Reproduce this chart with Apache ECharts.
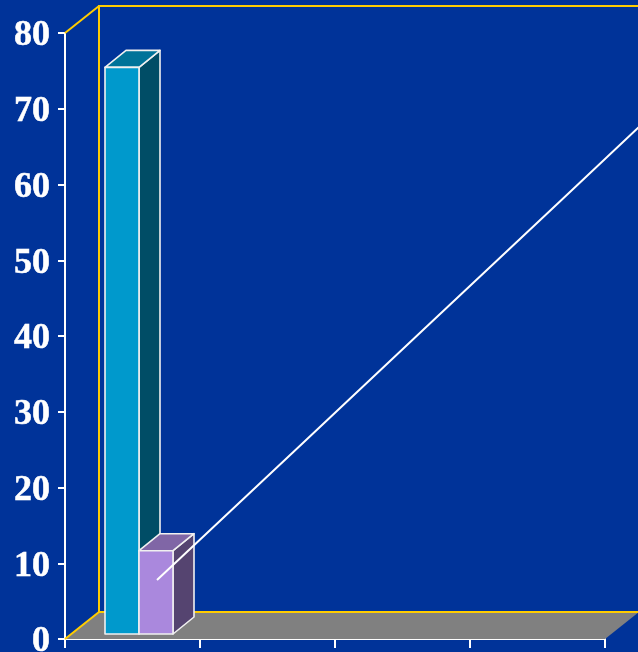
<!DOCTYPE html>
<html><head><meta charset="utf-8">
<style>html,body{margin:0;padding:0;background:#003399}#c{width:638px;height:652px}</style>
<script src="https://cdn.jsdelivr.net/npm/echarts@6/dist/echarts.min.js"></script>
</head><body><div id="c"></div>
<script>
const categories = ['A','B','C','D'];
const lineCategories = ['A','B','C','D','E'];
const barBlue = [74.8, null, null, null];
const barPurple = [11, null, null, null];
const lineValues = [6, 22.75, 39.5, 56.25, 73];
const yTicks = {min:0, max:80, interval:10};

const BG='#003399', YEL='#FFCC00', W='#FFFFFF';
const DX=34, DY=-27;           // box depth of the plot
const GX=6.5, GY=-5;           // gap in front of the bars
const BX=21, BY=-17, BW=34;    // bar depth and width

function wallsItem(params, api){
  const o=api.coord([0,0]), t=api.coord([0,80]), band=api.size([1,0])[0];
  const L=o[0]-band/2, R=L+band*categories.length, B=o[1], T=t[1];
  const line=(a,b,c)=>({type:'polyline',shape:{points:c?[a,b,c]:[a,b]},style:{fill:null,stroke:YEL,lineWidth:2}});
  return {type:'group',children:[
    {type:'polygon',shape:{points:[[L,B],[R,B],[R+DX,B+DY],[L+DX,B+DY]]},style:{fill:'#808080'}},
    line([L,B],[L+DX,B+DY],[R+DX,B+DY]),
    line([L+DX,B+DY],[L+DX,T+DY],[R+DX,T+DY]),
    line([L,T],[L+DX,T+DY])
  ]};
}
function barItem(colors, shift){
  return function(params, api){
    const v=api.value(1); if(v==null||isNaN(v)) return null;
    const p=api.coord([api.value(0),v]), o=api.coord([api.value(0),0]);
    const x0=p[0]+GX+shift, x1=x0+BW, yT=p[1]+GY, yB=o[1]+GY;
    const st=f=>({fill:f,stroke:'#F0F0F0',lineWidth:1.6,lineJoin:'round'});
    return {type:'group',children:[
      {type:'polygon',shape:{points:[[x1,yT],[x1+BX,yT+BY],[x1+BX,yB+BY],[x1,yB]]},style:st(colors[2])},
      {type:'polygon',shape:{points:[[x0,yT],[x0+BX,yT+BY],[x1+BX,yT+BY],[x1,yT]]},style:st(colors[1])},
      {type:'polygon',shape:{points:[[x0,yT],[x1,yT],[x1,yB],[x0,yB]]},style:st(colors[0])}
    ]};
  };
}
const labelStyle={color:W,fontFamily:'"Liberation Serif",serif',fontWeight:'bold',fontSize:36,textBorderColor:W,textBorderWidth:0.5};
const yLabelFont=Object.assign({},labelStyle,{margin:15,
  formatter:v=>'{a|'+v+'}',
  rich:{a:Object.assign({},labelStyle,{padding:[6,0,0,0]})}});
const chart=echarts.init(document.getElementById('c'),null,{renderer:'canvas'});
chart.setOption({
  animation:false,
  backgroundColor:BG,
  grid:[
    {left:65,top:33,width:540,height:606,outerBoundsMode:'none'},
    {left:89.5,top:19.5,width:675,height:606,outerBoundsMode:'none'}
  ],
  xAxis:[
    {gridIndex:0,type:'category',data:categories,boundaryGap:true,
     axisLine:{lineStyle:{color:W,width:2}},axisTick:{show:true,alignWithLabel:false,length:9,lineStyle:{color:W,width:2}},
     axisLabel:{show:false},splitLine:{show:false}},
    {gridIndex:1,type:'category',data:lineCategories,show:false}
  ],
  yAxis:[
    {gridIndex:0,type:'value',min:yTicks.min,max:yTicks.max,interval:yTicks.interval,
     axisLine:{show:true,lineStyle:{color:W,width:2}},axisTick:{show:true,length:7,lineStyle:{color:W,width:2}},
     axisLabel:yLabelFont,splitLine:{show:false}},
    {gridIndex:1,type:'value',min:yTicks.min,max:yTicks.max,show:false}
  ],
  series:[
    {type:'custom',xAxisIndex:0,yAxisIndex:0,renderItem:wallsItem,data:[[0,0]],z:1,silent:true,clip:false},
    {type:'custom',xAxisIndex:0,yAxisIndex:0,renderItem:barItem(['#0099CC','#007399','#004D66'],-BW),
     data:barBlue.map((v,i)=>[i,v]),encode:{x:0,y:1},z:3,clip:false},
    {type:'custom',xAxisIndex:0,yAxisIndex:0,renderItem:barItem(['#AA88DD','#8066A6','#554470'],0),
     data:barPurple.map((v,i)=>[i,v]),encode:{x:0,y:1},z:4,clip:false},
    {type:'line',xAxisIndex:1,yAxisIndex:1,data:lineValues,symbol:'none',z:5,clip:false,
     lineStyle:{color:W,width:2}}
  ]
});
</script></body></html>
